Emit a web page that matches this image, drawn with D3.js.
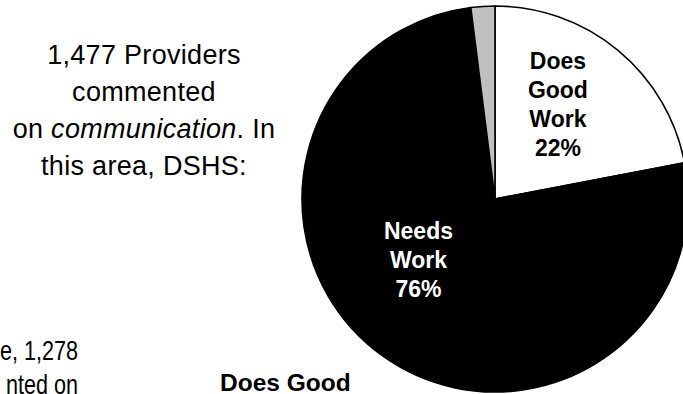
<!DOCTYPE html>
<html>
<head>
<meta charset="utf-8">
<script src="https://cdn.jsdelivr.net/npm/d3@7/dist/d3.min.js"></script>
<style>
  html, body { margin: 0; padding: 0; background: #fff; }
  svg { display: block; }
  .note { font-family: "Liberation Sans Narrow", "Arial Narrow", "Liberation Sans", sans-serif; font-size: 27px; letter-spacing: 0.3px; fill: #000; }
  .note2 { font-family: "Liberation Sans", Arial, sans-serif; font-size: 27px; fill: #000; }
  .lbl { font-family: "Liberation Sans", Arial, sans-serif; font-weight: bold; font-size: 23px; }
  .lblBig { font-family: "Liberation Sans", Arial, sans-serif; font-weight: bold; font-size: 24.5px; }
</style>
</head>
<body>
<svg id="chart" width="683" height="394"></svg>
<script>
// Provider feedback on communication
const categories = ["Does Good Work", "Needs Work", "Other"];
const shares = [22, 76, 2];
const shownLabels = ["Does Good Work", "Needs Work", null];

const totalComments = "1,477";
const topic = "communication";
const nextCount = "1,278";

const W = 683, H = 394;
const cx = 495, cy = 199, R = 193;

const svg = d3.select("#chart");

// Slice fills and label colours
const fill = d3.scaleOrdinal().domain(categories).range(["#ffffff", "#000000", "#c0c0c0"]);
const ink = d3.scaleOrdinal().domain(categories).range(["#000000", "#ffffff", "#000000"]);

const pie = d3.pie().sort(null).value(d => d.v).startAngle(0).endAngle(2 * Math.PI);
const arcs = pie(categories.map((c, i) => ({ c, v: shares[i], label: shownLabels[i] })));
const arc = d3.arc().innerRadius(0).outerRadius(R);

const g = svg.append("g").attr("transform", `translate(${cx},${cy})`);
g.selectAll("path.slice")
  .data(arcs)
  .join("path")
  .attr("class", "slice")
  .attr("d", arc)
  .attr("fill", d => fill(d.data.c))
  .attr("stroke", "#000")
  .attr("stroke-width", 1.6)
  .attr("stroke-linejoin", "round");

// Slice labels: name split over lines, then the percentage
const labelArc = d3.arc().innerRadius(0).outerRadius(R * 1.12);
const nudge = { "Does Good Work": [-6, -11], "Needs Work": [-13, -26] };
const lineH = 29;
arcs.filter(d => d.data.label).forEach(d => {
  const [x, y] = labelArc.centroid(d);
  const [nx, ny] = nudge[d.data.c];
  const lines = d.data.label.split(" ").concat([d3.format(".0f")(d.data.v) + "%"]);
  const t = g.append("text")
    .attr("class", "lbl")
    .attr("text-anchor", "middle")
    .attr("fill", ink(d.data.c))
    .attr("transform", `translate(${x + nx},${y + ny})`);
  lines.forEach((s, i) => {
    t.append("tspan")
      .attr("x", 0)
      .attr("y", (i - (lines.length - 1) / 2) * lineH + 8)
      .text(s);
  });
});

// Description on the left
const note = svg.append("text").attr("class", "note").attr("text-anchor", "middle");
const noteX = 144, noteY0 = 64, noteLH = 37;
note.append("tspan").attr("x", noteX).attr("y", noteY0).text(`${totalComments} Providers`);
note.append("tspan").attr("x", noteX).attr("y", noteY0 + noteLH).text("commented");
const l3 = note.append("tspan").attr("x", noteX).attr("y", noteY0 + 2 * noteLH);
l3.append("tspan").text("on ");
l3.append("tspan").attr("font-style", "italic").text(topic);
l3.append("tspan").text(". In");
note.append("tspan").attr("x", noteX).attr("y", noteY0 + 3 * noteLH).text("this area, DSHS:");

// Start of the next panel, cut by the lower edge (set in a condensed width)
const squeeze = 0.8;
const note2 = svg.append("g").attr("transform", `scale(${squeeze},1)`)
  .append("text").attr("class", "note2").attr("text-anchor", "end");
note2.append("tspan").attr("x", 78 / squeeze).attr("y", 360).text(`e, ${nextCount}`);
note2.append("tspan").attr("x", 78 / squeeze).attr("y", 394).text("nted on");

svg.append("text")
  .attr("class", "lblBig")
  .attr("x", 220)
  .attr("y", 391)
  .attr("fill", "#000")
  .text("Does Good");
</script>
</body>
</html>
